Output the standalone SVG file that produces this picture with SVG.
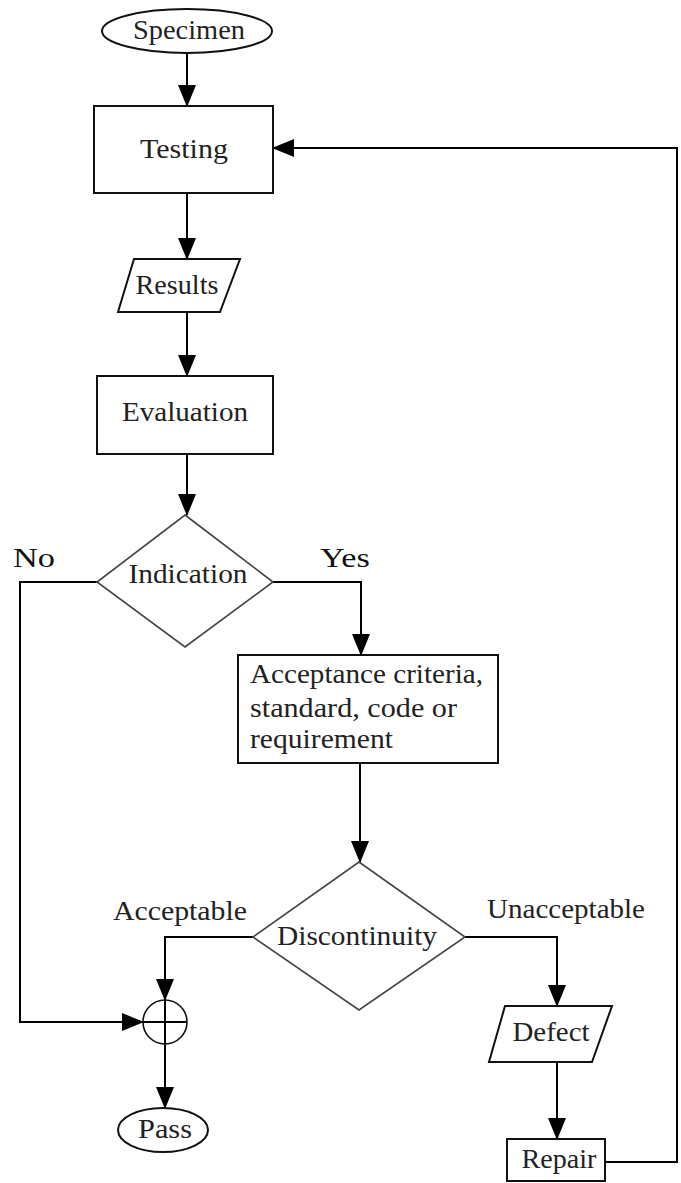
<svg xmlns="http://www.w3.org/2000/svg" width="681" height="1183" viewBox="0 0 681 1183">
<style>
.shape{fill:#fff;stroke:#111;stroke-width:2}
.dia{fill:#fff;stroke:#444;stroke-width:1.6}
.conn{fill:none;stroke:#000;stroke-width:2}
.t{font-family:"Liberation Serif","Times New Roman",serif;font-size:27px;fill:#222}
.m{text-anchor:middle}
.lbl{font-family:"Liberation Serif","Times New Roman",serif;font-size:28px;fill:#111}
</style>
<defs>
<marker id="ah" markerUnits="userSpaceOnUse" markerWidth="22" markerHeight="18" refX="21" refY="9" orient="auto">
<path d="M0,0 L22,9 L0,18 z" fill="#000"/>
</marker>
</defs>
<rect width="681" height="1183" fill="#fff"/>
<g id="connectors">
<line class="conn" x1="187" y1="53" x2="187" y2="106" marker-end="url(#ah)"/>
<line class="conn" x1="187" y1="193" x2="187" y2="259" marker-end="url(#ah)"/>
<line class="conn" x1="187" y1="312" x2="187" y2="376" marker-end="url(#ah)"/>
<line class="conn" x1="187" y1="454" x2="187" y2="515" marker-end="url(#ah)"/>
<polyline class="conn" points="97,582 20,582 20,1022 143,1022" marker-end="url(#ah)"/>
<polyline class="conn" points="273,582 361,582 361,655" marker-end="url(#ah)"/>
<line class="conn" x1="360" y1="763" x2="360" y2="862" marker-end="url(#ah)"/>
<polyline class="conn" points="253,937 165,937 165,1000" marker-end="url(#ah)"/>
<line class="conn" x1="165" y1="1044" x2="165" y2="1108" marker-end="url(#ah)"/>
<polyline class="conn" points="465,937 557,937 557,1006" marker-end="url(#ah)"/>
<line class="conn" x1="557" y1="1062" x2="557" y2="1139" marker-end="url(#ah)"/>
<polyline class="conn" points="605,1162 677,1162 677,148 273,148" marker-end="url(#ah)"/>
<text class="lbl" x="13" y="567" textLength="42" lengthAdjust="spacingAndGlyphs">No</text>
<text class="lbl" x="320" y="567" textLength="50" lengthAdjust="spacingAndGlyphs">Yes</text>
<text class="t" x="113" y="920" textLength="134" lengthAdjust="spacingAndGlyphs">Acceptable</text>
<text class="t" x="487" y="918" textLength="158" lengthAdjust="spacingAndGlyphs">Unacceptable</text>
</g>
<g id="specimen">
<ellipse class="shape" cx="187" cy="31" rx="85" ry="22"/>
<text class="t m" x="189" y="39" textLength="112" lengthAdjust="spacingAndGlyphs">Specimen</text>
</g>
<g id="testing">
<rect class="shape" x="94" y="106" width="179" height="87"/>
<text class="t m" x="184" y="158" textLength="88" lengthAdjust="spacingAndGlyphs">Testing</text>
</g>
<g id="results">
<polygon class="shape" points="134,259 240,259 220,312 118,312"/>
<text class="t m" x="177" y="294" textLength="83" lengthAdjust="spacingAndGlyphs">Results</text>
</g>
<g id="evaluation">
<rect class="shape" x="97" y="376" width="176" height="78"/>
<text class="t m" x="185" y="421" textLength="126" lengthAdjust="spacingAndGlyphs">Evaluation</text>
</g>
<g id="indication">
<polygon class="dia" points="185,515 273,582 185,647 97,582"/>
<text class="t m" x="188" y="583" textLength="119" lengthAdjust="spacingAndGlyphs">Indication</text>
</g>
<g id="acceptance">
<rect class="shape" x="238" y="655" width="260" height="108"/>
<text class="t" x="250" y="683" textLength="233" lengthAdjust="spacingAndGlyphs">Acceptance criteria,</text>
<text class="t" x="250" y="717" textLength="207" lengthAdjust="spacingAndGlyphs">standard, code or</text>
<text class="t" x="250" y="748" textLength="143" lengthAdjust="spacingAndGlyphs">requirement</text>
</g>
<g id="discontinuity">
<polygon class="dia" points="359,862 465,937 359,1010 253,937"/>
<text class="t m" x="357" y="945" textLength="160" lengthAdjust="spacingAndGlyphs">Discontinuity</text>
</g>
<g id="junction">
<circle cx="165" cy="1022" r="22" fill="#fff" stroke="#111" stroke-width="1.6"/>
<line class="conn" x1="143" y1="1022" x2="187" y2="1022"/>
<line class="conn" x1="165" y1="1000" x2="165" y2="1044"/>
</g>
<g id="pass">
<ellipse class="shape" cx="163" cy="1130" rx="45" ry="22"/>
<text class="t m" x="165" y="1138" textLength="54" lengthAdjust="spacingAndGlyphs">Pass</text>
</g>
<g id="defect">
<polygon class="shape" points="505,1006 612,1006 592,1062 489,1062"/>
<text class="t m" x="551" y="1041" textLength="77" lengthAdjust="spacingAndGlyphs">Defect</text>
</g>
<g id="repair">
<rect class="shape" x="507" y="1139" width="98" height="42"/>
<text class="t m" x="559" y="1168" textLength="75" lengthAdjust="spacingAndGlyphs">Repair</text>
</g>
</svg>
